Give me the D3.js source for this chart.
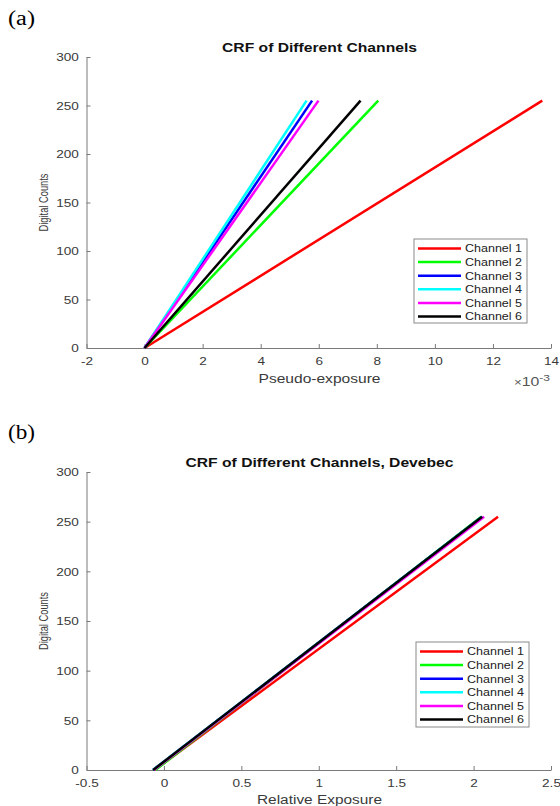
<!DOCTYPE html>
<html><head><meta charset="utf-8">
<script src="https://cdn.jsdelivr.net/npm/d3@7/dist/d3.min.js"></script>
<style>html,body{margin:0;padding:0;background:#fff;}svg{display:block;}</style>
</head><body>
<svg id="chart" width="560" height="806"></svg>
<script>
// ---------- data ----------
const channels = ["Channel 1", "Channel 2", "Channel 3", "Channel 4", "Channel 5", "Channel 6"];
const countRange = [0, 255];
// Panel (a): pseudo-exposure at count 0 and at count 255
const pseudoStart = [0, 0, 0, 0, 0, 0];
const pseudoEnd = [13.70e-3, 8.05e-3, 5.77e-3, 5.58e-3, 5.99e-3, 7.44e-3];
// Panel (b): relative exposure (Devebec) at count 0 and at count 255
const relStart = [-0.06, -0.055, -0.07, -0.07, -0.065, -0.07];
const relEnd = [2.158, 2.05, 2.055, 2.055, 2.068, 2.055];
const xTicksA = [-2e-3, 0, 2e-3, 4e-3, 6e-3, 8e-3, 10e-3, 12e-3, 14e-3];
const xTicksB = [-0.5, 0, 0.5, 1, 1.5, 2, 2.5];
const yTicks = [0, 50, 100, 150, 200, 250, 300];

// ---------- styles ----------
const colors = ["#ff0000", "#00ff00", "#0000ff", "#00ffff", "#ff00ff", "#000000"];
const FONT = "'Liberation Sans', Arial, Helvetica, sans-serif";
const SX = 1.17;
const axisColor = "#7a7a7a";
const textColor = "#3a3a3a";

const svg = d3.select("#chart");

function txt(x, y, str, o) {
  const t = svg.append("text")
    .attr("x", x).attr("y", y)
    .attr("font-family", o.family || FONT)
    .attr("font-size", o.size)
    .attr("font-weight", o.weight || "normal")
    .attr("fill", o.fill || textColor)
    .attr("text-anchor", o.anchor || "start")
    .text(str);
  if (o.len) t.attr("textLength", o.len).attr("lengthAdjust", "spacingAndGlyphs");
  if (o.rotate) t.attr("transform", `rotate(${o.rotate},${x},${y})`);
  return t;
}

function panel(cfg) {
  const x = d3.scaleLinear().domain(cfg.xDomain).range([86.5, 551]);
  const y = d3.scaleLinear().domain([0, 300]).range([cfg.y0, cfg.y300]);

  // axes
  const gx = svg.append("g").attr("transform", `translate(0,${cfg.y0})`)
    .call(d3.axisBottom(x).tickValues(cfg.xTicks).tickFormat(cfg.xFormat)
      .tickSizeInner(-4).tickSizeOuter(0).tickPadding(cfg.xPad));
  const gy = svg.append("g").attr("transform", `translate(86.5,0)`)
    .call(d3.axisLeft(y).tickValues(yTicks).tickFormat(d => String(d))
      .tickSizeInner(-4).tickSizeOuter(0).tickPadding(6.5));
  [gx, gy].forEach(g => {
    g.select(".domain").attr("stroke", axisColor).attr("stroke-width", 1);
    g.selectAll(".tick line").attr("stroke", axisColor).attr("stroke-width", 1);
    g.selectAll(".tick text").attr("font-family", FONT).attr("font-size", 11.6)
      .attr("fill", textColor).attr("transform", `scale(${SX},1)`);
  });

  // lines
  const line = d3.line().x(d => x(d[0])).y(d => y(d[1]));
  channels.forEach((c, i) => {
    svg.append("path")
      .datum([[cfg.start[i], countRange[0]], [cfg.end[i], countRange[1]]])
      .attr("d", line).attr("fill", "none")
      .attr("stroke", colors[i]).attr("stroke-width", 2.5);
  });

  // title, labels
  txt(319.5, cfg.titleY, cfg.title, {size: 12, weight: "bold", anchor: "middle", len: cfg.titleLen, fill: "#111"});
  txt(319.5, cfg.xLabelY, cfg.xLabel, {size: 12.5, anchor: "middle", len: cfg.xLabelLen});
  const ym = (cfg.y0 + cfg.y300) / 2;
  txt(47.5, ym, "Digital Counts", {size: 13.5, anchor: "middle", rotate: -90, len: 58});
  txt(8, cfg.tagY, cfg.tag, {size: 20, family: "'Liberation Serif', 'Times New Roman', serif", len: 27, fill: "#000"});

  // legend
  const L = cfg.legend;
  svg.append("rect").attr("x", L.x).attr("y", L.y).attr("width", 113).attr("height", L.h)
    .attr("fill", "#fff").attr("stroke", "#8a8a8a").attr("stroke-width", 1);
  channels.forEach((c, i) => {
    const cy = L.y + 9.5 + i * 13.6;
    svg.append("line").attr("x1", L.x + 4).attr("x2", L.x + 47).attr("y1", cy).attr("y2", cy)
      .attr("stroke", colors[i]).attr("stroke-width", 2.5);
    txt(L.x + 51, cy + 3.9, c, {size: 10.8, len: 57, fill: "#222"});
  });
}

panel({
  xDomain: [-2e-3, 14e-3], xTicks: xTicksA, xFormat: d => String(Math.round(d * 1000)),
  y0: 348, y300: 57, xPad: 9,
  start: pseudoStart, end: pseudoEnd,
  title: "CRF of Different Channels", titleY: 51.5, titleLen: 195,
  xLabel: "Pseudo-exposure", xLabelY: 382.5, xLabelLen: 122,
  tag: "(a)", tagY: 24.5,
  legend: {x: 414, y: 239, h: 84}
});
panel({
  xDomain: [-0.5, 2.5], xTicks: xTicksB, xFormat: d => String(d),
  y0: 770, y300: 472, xPad: 8.5,
  start: relStart, end: relEnd,
  title: "CRF of Different Channels, Devebec", titleY: 467, titleLen: 268,
  xLabel: "Relative Exposure", xLabelY: 804, xLabelLen: 125,
  tag: "(b)", tagY: 439,
  legend: {x: 416, y: 642, h: 85}
});

// exponent label for panel (a)
const ex = svg.append("text").attr("x", 514).attr("y", 386)
  .attr("font-family", FONT).attr("fill", "#555").attr("font-size", 12.5)
  .attr("textLength", 36).attr("lengthAdjust", "spacingAndGlyphs");
ex.append("tspan").attr("font-size", 10.5).text("\u00d7");
ex.append("tspan").text("10");
ex.append("tspan").attr("font-size", 9.5).attr("dy", -5.5).text("-3");
</script>
</body></html>
